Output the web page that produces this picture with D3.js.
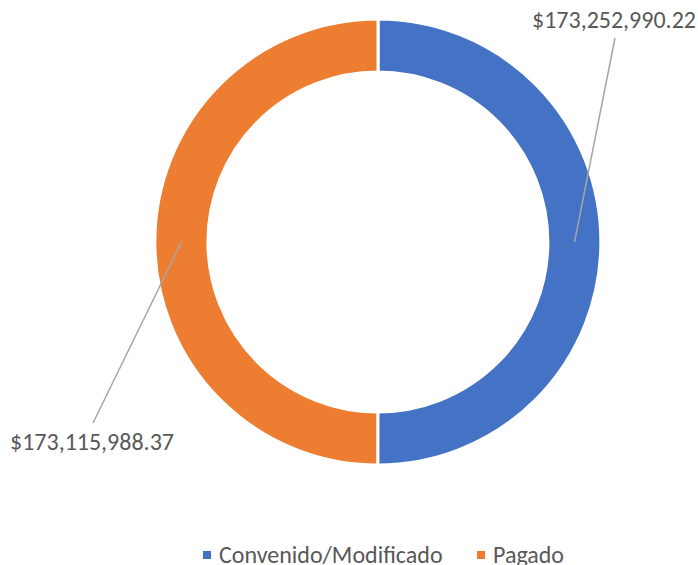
<!DOCTYPE html>
<html>
<head>
<meta charset="utf-8">
<script src="https://cdn.jsdelivr.net/npm/d3@7"></script>
<style>
  html, body { margin: 0; padding: 0; background: #fff; }
  svg text { font-family: Carlito, Calibri, Lato, sans-serif; fill: #595959; }
</style>
</head>
<body>
<svg id="chart" width="698" height="565"></svg>
<script>
const categories = ['Convenido/Modificado', 'Pagado']
const values = [173252990.22, 173115988.37]
const colors = ['#4472C4', '#ED7D31']

const width = 698
const height = 565
const cx = 378, cy = 242
const outerR = 223, innerR = 170

const svg = d3.select('#chart')

const pie = d3.pie().sort(null).value(d => d)
const arcs = pie(values)

const arc = d3.arc().innerRadius(innerR).outerRadius(outerR)
const mid = d3.arc().innerRadius((innerR + outerR) / 2).outerRadius((innerR + outerR) / 2)

const g = svg.append('g').attr('transform', `translate(${cx},${cy})`)

g.selectAll('path')
  .data(arcs)
  .enter().append('path')
    .attr('d', arc)
    .attr('fill', (d, i) => colors[i])
    .attr('stroke', '#fff')
    .attr('stroke-width', 3)

// label placement (Excel-style moved labels)
const labelPos = [
  { x: 614, y: 28, lineEnd: [615, 38] },
  { x: 92, y: 450, lineEnd: [93, 423] }
]
const fmt = d => '$' + d3.format(',.2f')(d)

arcs.forEach((d, i) => {
  const c = mid.centroid(d)
  const p = labelPos[i]
  svg.append('line')
    .attr('x1', cx + c[0]).attr('y1', cy + c[1])
    .attr('x2', p.lineEnd[0]).attr('y2', p.lineEnd[1])
    .attr('stroke', '#A6A6A6').attr('stroke-width', 1.5)
  svg.append('text')
    .attr('x', p.x).attr('y', p.y)
    .attr('text-anchor', 'middle')
    .style('font-size', '24px')
    .text(fmt(values[i]))
})

// legend
const legendX = [203, 477]
const legend = svg.selectAll('.legend')
  .data(categories)
  .enter().append('g')
    .attr('class', 'legend')
    .attr('transform', (d, i) => `translate(${legendX[i]},555)`)
legend.append('rect')
  .attr('x', 0).attr('y', -4).attr('width', 8).attr('height', 8)
  .attr('fill', (d, i) => colors[i])
legend.append('text')
  .attr('x', 16).attr('y', 8)
  .style('font-size', '24px')
  .text(d => d)
</script>
</body>
</html>
